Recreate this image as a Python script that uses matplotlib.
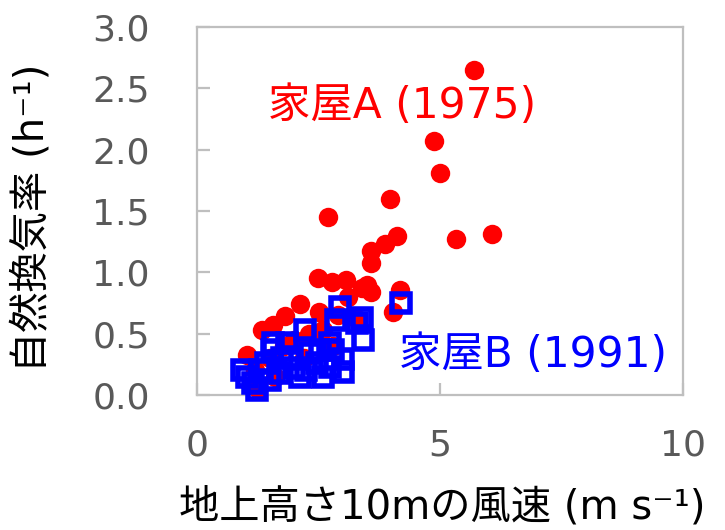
import matplotlib
matplotlib.use("Agg")
import matplotlib.pyplot as plt

plt.rcParams['font.family'] = ['DejaVu Sans', 'Noto Sans CJK JP']

# House A (1975): wind speed at 10 m (m/s) vs natural air change rate (1/h)
house_a_wind = [5.69, 4.88, 5.00, 3.97, 2.70, 4.11, 3.87, 5.33, 6.06, 3.57,
                3.59, 2.48, 2.78, 3.06, 3.49, 3.59, 3.40, 4.18, 3.10, 2.12,
                1.81, 2.50, 1.57, 1.33, 4.04, 1.02, 2.60, 3.30, 1.25, 1.50,
                1.80, 2.00, 2.30, 1.20, 2.90, 2.80, 1.60, 2.20]
house_a_ach = [2.65, 2.07, 1.81, 1.60, 1.45, 1.30, 1.23, 1.27, 1.31, 1.17,
               1.08, 0.95, 0.92, 0.94, 0.90, 0.84, 0.87, 0.86, 0.80, 0.74,
               0.64, 0.68, 0.57, 0.53, 0.68, 0.33, 0.53, 0.62, 0.05, 0.30,
               0.40, 0.45, 0.50, 0.20, 0.65, 0.40, 0.15, 0.30]

# House B (1991)
house_b_wind = [4.19, 2.94, 2.87, 3.39, 3.42, 2.22, 1.57, 2.74, 3.01, 3.01,
                2.60, 0.92, 1.16, 1.23, 1.71, 2.12, 1.91, 2.33, 1.43, 1.54,
                1.85, 2.53, 2.80, 2.46, 2.74, 1.02, 1.30, 1.50, 3.29, 2.00,
                1.75, 2.25]
house_b_ach = [0.75, 0.72, 0.61, 0.63, 0.45, 0.53, 0.42, 0.42, 0.29, 0.19,
               0.15, 0.20, 0.10, 0.04, 0.18, 0.15, 0.31, 0.34, 0.26, 0.37,
               0.42, 0.37, 0.37, 0.26, 0.23, 0.15, 0.20, 0.12, 0.59, 0.22,
               0.30, 0.20]

x_ticks = [0, 5, 10]
y_ticks = [0.0, 0.5, 1.0, 1.5, 2.0, 2.5, 3.0]
y_tick_labels = ['0.0', '0.5', '1.0', '1.5', '2.0', '2.5', '3.0']

fig = plt.figure(figsize=(7.25, 5.30), dpi=100)
ax = fig.add_axes([197 / 725, 1 - 395 / 530, 486 / 725, 368 / 530])

ax.plot(house_a_wind, house_a_ach, 'o', color='#ff0000', ms=14,
        mec='none', clip_on=False, zorder=3)
ax.plot(house_b_wind, house_b_ach, 's', mfc='none', mec='#0000ff', ms=13.5,
        mew=4.0, clip_on=False, zorder=4)

ax.set_xlim(0, 10)
ax.set_ylim(0, 3.0)
ax.set_xticks(x_ticks)
ax.set_yticks(y_ticks)
ax.set_yticklabels(y_tick_labels)

grey = '#bfbfbf'
for s in ax.spines.values():
    s.set_color(grey)
    s.set_linewidth(1.6)

ax.tick_params(axis='both', direction='in', color=grey, width=1.6,
               length=9, labelsize=26, labelcolor='#595959')
ax.tick_params(axis='y', pad=34)
ax.tick_params(axis='x', pad=24)

ax.text(1.46, 2.36, '家屋A (1975)', color='#ff0000', fontsize=30.5,
        ha='left', va='center')
ax.text(4.16, 0.33, '家屋B (1991)', color='#0000ff', fontsize=30.5,
        ha='left', va='center')

fig.text(33 / 725, 1 - 218 / 530, '自然換気率 (h⁻¹)', rotation=90,
         ha='center', va='center', fontsize=29, color='black')
fig.text(442 / 725, 1 - 507 / 530, '地上高さ10mの風速 (m s⁻¹)',
         ha='center', va='center', fontsize=29, color='black')

fig.savefig('out.png', dpi=100)
